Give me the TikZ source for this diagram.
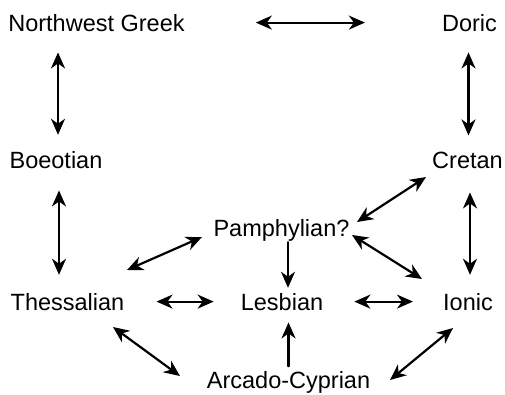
\documentclass[tikz,border=0pt]{standalone}
\usepackage{fontspec}
\setmainfont{Liberation Sans}
\usetikzlibrary{arrows.meta}
\begin{document}
\begin{tikzpicture}[x=1pt,y=-1pt,line cap=round,line join=round,
    lang/.style={inner sep=0pt,anchor=base,font=\fontsize{23.5}{28}\selectfont},
    link/.style={line width=2.2pt,{Stealth[length=16pt,width=14pt,inset=5pt]}-{Stealth[length=16pt,width=14pt,inset=5pt]}},
    oneway/.style={line width=2.2pt,-{Stealth[length=16pt,width=14pt,inset=5pt]}}]
    \useasboundingbox (0,0) rectangle (505,394);

    \node[lang] (nw)  at (96.5,31)  {Northwest Greek};
    \node[lang] (dor) at (469.5,31) {Doric};
    \node[lang] (boe) at (56,168)   {Boeotian};
    \node[lang] (cre) at (467.5,168) {Cretan};
    \node[lang] (pam) at (281.5,236) {Pamphylian?};
    \node[lang] (the) at (67.5,310) {Thessalian};
    \node[lang] (les) at (282,310)  {Lesbian};
    \node[lang] (ion) at (468,310)  {Ionic};
    \node[lang] (arc) at (288.5,388.5) {Arcado-Cyprian};

    % free ends of the slanted links
    \coordinate (the-pam) at (127,270);
    \coordinate (pam-the) at (202,237);
    \coordinate (pam-cre) at (357,222);
    \coordinate (cre-pam) at (426,177);
    \coordinate (pam-ion) at (352,235);
    \coordinate (ion-pam) at (422,279);
    \coordinate (the-arc) at (113,327);
    \coordinate (arc-the) at (180,376);
    \coordinate (arc-ion) at (390,380);
    \coordinate (ion-arc) at (453,328);

    \draw[link,shorten <=71pt,shorten >=77pt] (nw.east) -- (dor.west);
    \draw[link,shorten <=16pt,shorten >=21pt] ([xshift=2pt]boe.north) -- ([xshift=2pt]boe.north |- nw.south);
    \draw[link,shorten <=21pt,shorten >=16pt] ([xshift=-1pt]dor.south) -- ([xshift=-1pt]dor.south |- cre.north);
    \draw[link,shorten <=22pt,shorten >=18pt] ([xshift=3pt]boe.south) -- ([xshift=3pt]boe.south |- the.north);
    \draw[link,shorten <=24pt,shorten >=18pt] ([xshift=2.5pt]cre.south) -- ([xshift=2.5pt]cre.south |- ion.north);
    \draw[link,shorten <=32pt,shorten >=27pt] (the.east) -- (les.west);
    \draw[link,shorten <=31pt,shorten >=30pt] (les.east) -- (ion.west);
    \draw[oneway,shorten <=1pt,shorten >=5pt] ([xshift=6.5pt]pam.south) -- ([xshift=6.5pt]pam.south |- les.north);
    \draw[oneway,shorten <=5pt,shorten >=12pt] (arc.north) -- (arc.north |- les.south);

    \draw[link] (the-pam) -- (pam-the);
    \draw[link] (pam-cre) -- (cre-pam);
    \draw[link] (pam-ion) -- (ion-pam);
    \draw[link] (the-arc) -- (arc-the);
    \draw[link] (arc-ion) -- (ion-arc);
\end{tikzpicture}
\end{document}
